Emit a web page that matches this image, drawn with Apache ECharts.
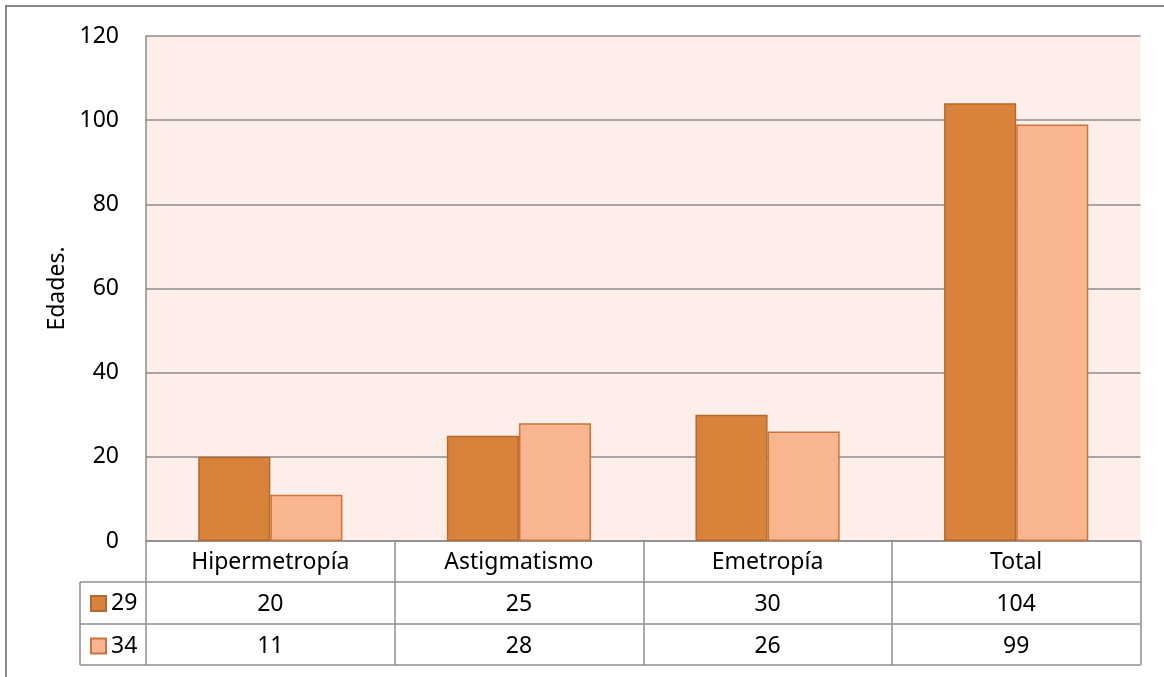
<!DOCTYPE html>
<html>
<head>
<meta charset="utf-8">
<script src="https://cdn.jsdelivr.net/npm/echarts@6/dist/echarts.min.js"></script>
<style>
  html, body { margin: 0; padding: 0; background: #ffffff; }
  #chart { width: 1164px; height: 677px; }
</style>
</head>
<body>
<div id="chart"></div>
<script>
// Categories and the two age series shown in the bars and the data table
const categories = ['Hipermetropía', 'Astigmatismo', 'Emetropía', 'Total'];
const seriesNames = ['29', '34'];
const values29 = [20, 25, 30, 104];
const values34 = [11, 28, 26, 99];
const yTicks = [0, 20, 40, 60, 80, 100, 120];

const FONT = 'Noto Sans';
const FONT_SIZE = 23;
const GRID_COLOR = '#8c8c8c';
const TABLE_COLOR = '#8f8f8f';

const chart = echarts.init(document.getElementById('chart'), null, { renderer: 'canvas' });

// Plot-area geometry (pixels)
const plotLeft = 146, plotRight = 1140.5, plotTop = 36, plotBottom = 541;
const rowLines = [582, 624, 665];
const legendLeft = 80;

const tableGraphics = [];
// horizontal rules of the data table
rowLines.forEach(y => {
  tableGraphics.push({
    type: 'line', silent: true,
    shape: { x1: legendLeft, y1: y, x2: plotRight, y2: y },
    style: { stroke: TABLE_COLOR, lineWidth: 1.5 }
  });
});
// left edge of the legend column
tableGraphics.push({
  type: 'line', silent: true,
  shape: { x1: legendLeft, y1: rowLines[0], x2: legendLeft, y2: rowLines[2] },
  style: { stroke: TABLE_COLOR, lineWidth: 1.5 }
});
// outer frame of the chart
tableGraphics.push({
  type: 'rect', silent: true,
  shape: { x: 6, y: 6, width: 1200, height: 700 },
  style: { fill: 'none', stroke: '#878787', lineWidth: 2 }
});

function tableAxis(data, offset, margin, showTicks, showLine) {
  return {
    type: 'category',
    data: data,
    position: 'bottom',
    offset: offset,
    gridIndex: 0,
    axisLine: { show: showLine, lineStyle: { color: GRID_COLOR, width: 1.5 } },
    axisTick: {
      show: showTicks, length: rowLines[2] - plotBottom,
      lineStyle: { color: TABLE_COLOR, width: 1.5 }
    },
    axisLabel: {
      margin: margin, verticalAlign: 'middle',
      fontFamily: FONT, fontSize: FONT_SIZE, color: '#000'
    },
    splitLine: { show: false }
  };
}

const option = {
  animation: false,
  backgroundColor: '#ffffff',
  textStyle: { fontFamily: FONT },
  grid: {
    left: plotLeft, right: 1164 - plotRight, top: plotTop, bottom: 677 - plotBottom,
    show: true, backgroundColor: '#FDEEE9', borderWidth: 0
  },
  legend: {
    orient: 'vertical',
    left: 90, top: 592,
    padding: 0,
    icon: 'rect',
    itemWidth: 15, itemHeight: 15,
    itemGap: 19.5,
    textStyle: { fontFamily: FONT, fontSize: FONT_SIZE, color: '#000', lineHeight: 22 },
    data: seriesNames
  },
  xAxis: [
    tableAxis(categories, 0, (rowLines[0] - plotBottom) / 2 + 1, true, true),
    tableAxis(values29.map(String), rowLines[0] - plotBottom, (rowLines[1] - rowLines[0]) / 2 + 1, false, false),
    tableAxis(values34.map(String), rowLines[1] - plotBottom, (rowLines[2] - rowLines[1]) / 2 + 2, false, false)
  ],
  yAxis: {
    type: 'value',
    min: yTicks[0], max: yTicks[yTicks.length - 1], interval: yTicks[1] - yTicks[0],
    name: 'Edades.',
    nameLocation: 'middle',
    nameGap: 72,
    nameTextStyle: { fontFamily: FONT, fontSize: FONT_SIZE, color: '#000' },
    axisLine: { show: true, lineStyle: { color: GRID_COLOR, width: 1.5 } },
    axisTick: { show: false },
    axisLabel: { margin: 27, fontFamily: FONT, fontSize: FONT_SIZE, color: '#000' },
    splitLine: { show: true, lineStyle: { color: GRID_COLOR, width: 1.5 } }
  },
  series: [
    {
      name: seriesNames[0], type: 'bar', xAxisIndex: 0,
      data: values29,
      barGap: '0%', barCategoryGap: '42%',
      itemStyle: { color: '#D9823B', borderColor: '#B46A2E', borderWidth: 1.5 }
    },
    {
      name: seriesNames[1], type: 'bar', xAxisIndex: 0,
      data: values34,
      barGap: '0%', barCategoryGap: '42%',
      itemStyle: { color: '#F8B590', borderColor: '#C8743A', borderWidth: 1.5 }
    }
  ],
  graphic: tableGraphics
};

chart.setOption(option);
</script>
</body>
</html>
